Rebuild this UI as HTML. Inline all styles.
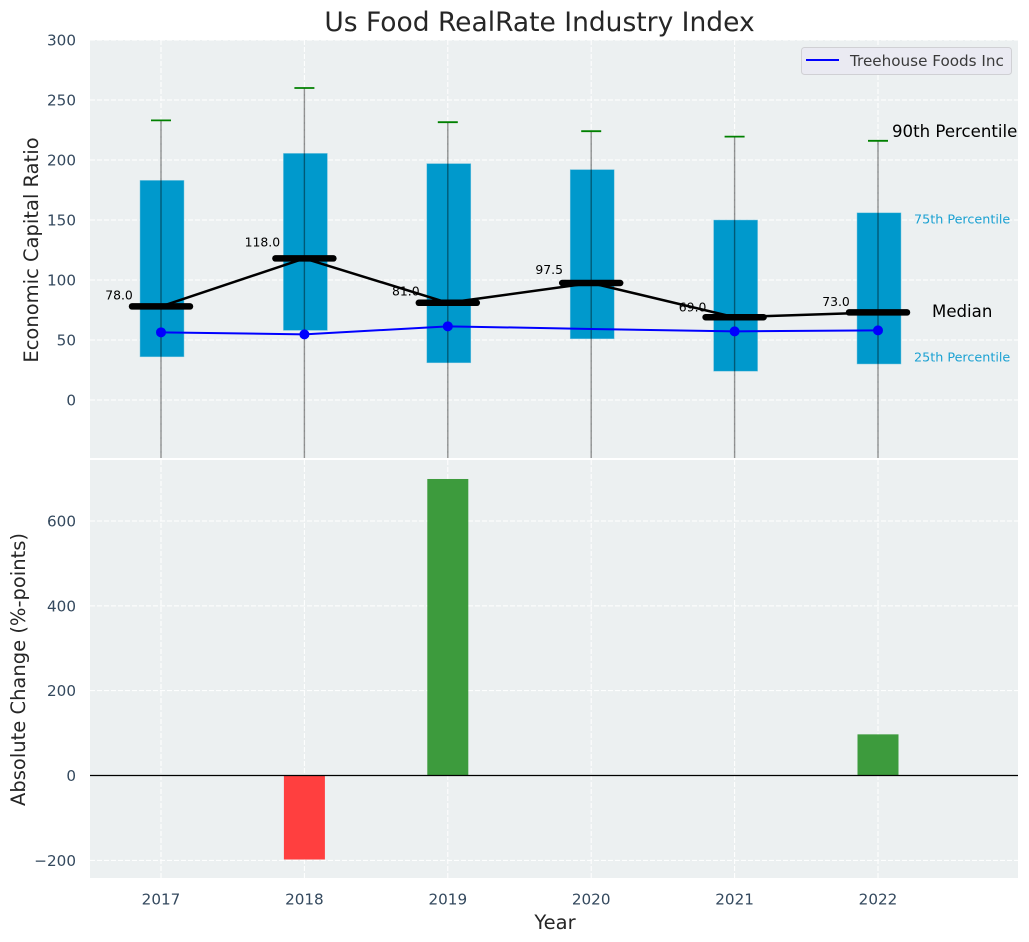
<!DOCTYPE html>
<html lang="en">
<head>
<meta charset="utf-8">
<title>Us Food RealRate Industry Index</title>
<style>
html,body{margin:0;padding:0;background:#fff;}
svg{display:block;font-family:"DejaVu Sans","Liberation Sans",sans-serif;}
</style>
</head>
<body>
<svg id="chart" xmlns="http://www.w3.org/2000/svg" width="1029" height="942" viewBox="0 0 1029 942">
  <defs>
    <clipPath id="top-clip"><rect x="90" y="40" width="928" height="418"></rect></clipPath>
    <clipPath id="bottom-clip"><rect x="90" y="460" width="928" height="418"></rect></clipPath>
  </defs>
  <rect x="0" y="0" width="1029" height="942" fill="#ffffff"></rect>
  <rect x="90" y="40" width="928" height="418" fill="#ecf0f1"></rect>
  <rect x="90" y="460" width="928" height="418" fill="#ecf0f1"></rect>
  <text x="539.5" y="31" text-anchor="middle" font-size="26.5" fill="#262626">Us Food RealRate Industry Index</text>
  <text transform="translate(38 250) rotate(-90)" text-anchor="middle" font-size="19.5" fill="#262626">Economic Capital Ratio</text>
  <text transform="translate(25 669.5) rotate(-90)" text-anchor="middle" font-size="19.5" fill="#262626">Absolute Change (%-points)</text>
  <text x="555" y="929" text-anchor="middle" font-size="19.5" fill="#262626">Year</text>
  <g id="top-grid"></g>
  <g id="bottom-grid"></g>
  <g id="top-marks" clip-path="url(#top-clip)"></g>
  <g id="bottom-marks" clip-path="url(#bottom-clip)"></g>
  <g id="tick-labels"></g>
  <g>
    <rect x="801.5" y="47.5" width="210" height="27" rx="3" fill="#eaeaf2" stroke="#d0d0d4" stroke-width="1"></rect>
    <line x1="806" y1="60" x2="839" y2="60" stroke="#0000ff" stroke-width="2"></line>
    <text x="850" y="66" font-size="15.2" fill="#3a3a3a">Treehouse Foods Inc</text>
  </g>
  <text x="892" y="137" font-size="16.6" fill="#000000">90th Percentile</text>
  <text x="914" y="223.5" font-size="12.75" fill="#1ba1d2">75th Percentile</text>
  <text x="932" y="317" font-size="16.6" fill="#000000">Median</text>
  <text x="914" y="361.5" font-size="12.75" fill="#1ba1d2">25th Percentile</text>
</svg>
<script>
const years = [2017, 2018, 2019, 2020, 2021, 2022];
const p90 = [233, 260, 231.5, 224, 219.5, 216];
const p75 = [183, 205.5, 197, 192, 150, 156];
const medians = [78, 118, 81, 97.5, 69, 73];
const p25 = [36, 58, 31, 51, 24, 30];
const p10 = [-60, -60, -60, -60, -60, -60];
const company = [56.4, 54.7, 61.4, 59.2, 57.2, 58];
const changes = [0, -198, 699, 0, 0, 97];
const topTicks = [0, 50, 100, 150, 200, 250, 300];
const bottomTicks = [-200, 0, 200, 400, 600];

const NS = 'http://www.w3.org/2000/svg';
function xAxis(year) { return 161 + (year - 2017) * 143.4; }
function yTop(value) { return 400 - value * 1.2; }
function yBottom(value) { return 775.5 - value * 0.4242; }
function mk(tag, attrs, parent) {
  const el = document.createElementNS(NS, tag);
  for (const k in attrs) el.setAttribute(k, attrs[k]);
  parent.appendChild(el);
  return el;
}
function tickText(value) { return String(value).replace('-', '\u2212'); }

const topGrid = document.getElementById('top-grid');
const bottomGrid = document.getElementById('bottom-grid');
const topMarks = document.getElementById('top-marks');
const bottomMarks = document.getElementById('bottom-marks');
const tickLabels = document.getElementById('tick-labels');
const gridStyle = { stroke: '#ffffff', 'stroke-width': 1, 'stroke-dasharray': '5 2' };

topTicks.forEach(function (t) {
  const y = yTop(t);
  const g = mk('line', Object.assign({ x1: 90, x2: 1018, y1: y, y2: y }, gridStyle), topGrid);
  
  
  const label = mk('text', { x: 76, y: y + 5.5, 'text-anchor': 'end', 'font-size': 15.2, fill: '#34495e' }, tickLabels);
  
  
  label.textContent = tickText(t);
});
bottomTicks.forEach(function (t) {
  const y = yBottom(t);
  const g = mk('line', Object.assign({ x1: 90, x2: 1018, y1: y, y2: y }, gridStyle), bottomGrid);
  
  
  const label = mk('text', { x: 76, y: y + 5.5, 'text-anchor': 'end', 'font-size': 15.2, fill: '#34495e' }, tickLabels);
  
  
  label.textContent = tickText(t);
});
years.forEach(function (year) {
  const x = xAxis(year);
  const g1 = mk('line', Object.assign({ x1: x, x2: x, y1: 40, y2: 458 }, gridStyle), topGrid);
  
  
  const g2 = mk('line', Object.assign({ x1: x, x2: x, y1: 460, y2: 878 }, gridStyle), bottomGrid);
  
  
  const label = mk('text', { x: x, y: 904.5, 'text-anchor': 'middle', 'font-size': 15.2, fill: '#34495e' }, tickLabels);
  
  
  label.textContent = year;
});

years.forEach(function (year, i) {
  const x = xAxis(year);
  const box = mk('rect', { x: x - 21, width: 44, y: yTop(p75[i]), height: yTop(p25[i]) - yTop(p75[i]), fill: '#0099cc', stroke: '#7cc6df', 'stroke-width': 0.5 }, topMarks);
  
  
});
years.forEach(function (year, i) {
  const x = xAxis(year);
  const whisker = mk('line', { x1: x, x2: x, y1: yTop(p90[i]), y2: yTop(p10[i]), stroke: '#000000', 'stroke-opacity': 0.42, 'stroke-width': 1.4 }, topMarks);
  
  
  const cap = mk('line', { x1: x - 10, x2: x + 10, y1: yTop(p90[i]), y2: yTop(p90[i]), stroke: '#008000', 'stroke-width': 1.8 }, topMarks);
  
  
});

const medianPoints = years.map(function (year, i) { return xAxis(year) + ',' + yTop(medians[i]); }).join(' ');
const medianLine = mk('polyline', { points: medianPoints, fill: 'none', stroke: '#000000', 'stroke-width': 2.5 }, topMarks);



years.forEach(function (year, i) {
  const x = xAxis(year);
  const y = yTop(medians[i]);
  const bar = mk('line', { x1: x - 29, x2: x + 29, y1: y, y2: y, stroke: '#000000', 'stroke-width': 6.5, 'stroke-linecap': 'round' }, topMarks);
  
  
  const label = mk('text', { x: x - 42, y: yTop(medians[i] * 1.1) + 2.5, 'text-anchor': 'middle', 'font-size': 12.4, fill: '#000000' }, topMarks);
  
  
  label.textContent = medians[i].toFixed(1);
});

const companyPoints = years.map(function (year, i) { return xAxis(year) + ',' + yTop(company[i]); }).join(' ');
const companyLine = mk('polyline', { points: companyPoints, fill: 'none', stroke: '#0000ff', 'stroke-width': 2 }, topMarks);


years.forEach(function (year, i) {
  if (i === 3) return;
  const dot = mk('circle', { cx: xAxis(year), cy: yTop(company[i]), r: 5, fill: '#0000ff' }, topMarks);
  
  
});

years.forEach(function (year, i) {
  if (changes[i] === 0) return;
  const x = xAxis(year);
  const y0 = yBottom(0);
  const y1 = yBottom(changes[i]);
  const bar = mk('rect', { x: x - 20.5, width: 41, y: Math.min(y0, y1), height: Math.abs(y1 - y0), fill: changes[i] > 0 ? '#3d9b3d' : '#ff3f3f' }, bottomMarks);
  
  
});
const zero = mk('line', { x1: 90, x2: 1018, y1: yBottom(0), y2: yBottom(0), stroke: '#000000', 'stroke-width': 1.3 }, bottomMarks);


</script>
</body>
</html>
